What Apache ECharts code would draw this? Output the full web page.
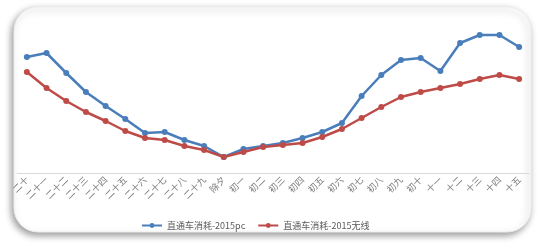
<!DOCTYPE html>
<html>
<head>
<meta charset="utf-8">
<script src="https://cdn.jsdelivr.net/npm/echarts@6/dist/echarts.min.js"></script>
<style>
html,body{margin:0;padding:0;background:#ffffff;}
#chart{width:540px;height:247px;}
</style>
</head>
<body>
<div id="chart"></div>
<script>
var categories = ['二十','二十一','二十二','二十三','二十四','二十五','二十六','二十七','二十八','二十九','除夕','初一','初二','初三','初四','初五','初六','初七','初八','初九','初十','十一','十二','十三','十四','十五'];
var pcValues = [1160,1200,1000,810,670,540,400,410,330,270,160,240,270,300,350,410,500,770,980,1130,1150,1020,1300,1380,1380,1260];
var mobileValues = [1010,850,720,610,520,420,350,330,270,230,160,210,260,280,300,360,440,550,660,760,810,850,890,940,980,940];
var seriesNames = ['直通车消耗-2015pc','直通车消耗-2015无线'];

var chart = echarts.init(document.getElementById('chart'), null, {renderer:'canvas'});
chart.setOption({
  animation:false,
  backgroundColor:'#ffffff',
  graphic:[{
    type:'rect',
    z:-10,
    silent:true,
    shape:{x:14,y:7,width:517,height:225,r:24},
    style:{fill:'#ffffff',stroke:'#efefef',lineWidth:1,shadowBlur:7,shadowColor:'rgba(0,0,0,0.4)',shadowOffsetX:-2,shadowOffsetY:3}
  }],
  legend:{
    left:136,
    top:216,
    itemWidth:20,
    itemHeight:6,
    itemGap:12,
    textStyle:{fontSize:9,color:'#595959',fontFamily:'Noto Sans CJK SC'},
    data:seriesNames
  },
  grid:{left:17,right:11,top:23,bottom:74},
  xAxis:{
    type:'category',
    data:categories,
    boundaryGap:true,
    axisLine:{lineStyle:{color:'#d9d9d9',width:1}},
    axisTick:{show:false},
    axisLabel:{interval:0,rotate:45,fontSize:9,color:'#7a7a7a',margin:5,fontFamily:'Noto Sans CJK SC'}
  },
  yAxis:{
    type:'value',
    min:0,max:1500,
    show:false,
    splitLine:{show:false}
  },
  series:[
    {name:seriesNames[0],type:'line',data:pcValues,symbol:'circle',symbolSize:6,
     itemStyle:{color:'#4a7ebb'},lineStyle:{color:'#4a7ebb',width:2.5}},
    {name:seriesNames[1],type:'line',data:mobileValues,symbol:'circle',symbolSize:6,
     itemStyle:{color:'#be4b48'},lineStyle:{color:'#be4b48',width:2.5}}
  ]
});
</script>
</body>
</html>
